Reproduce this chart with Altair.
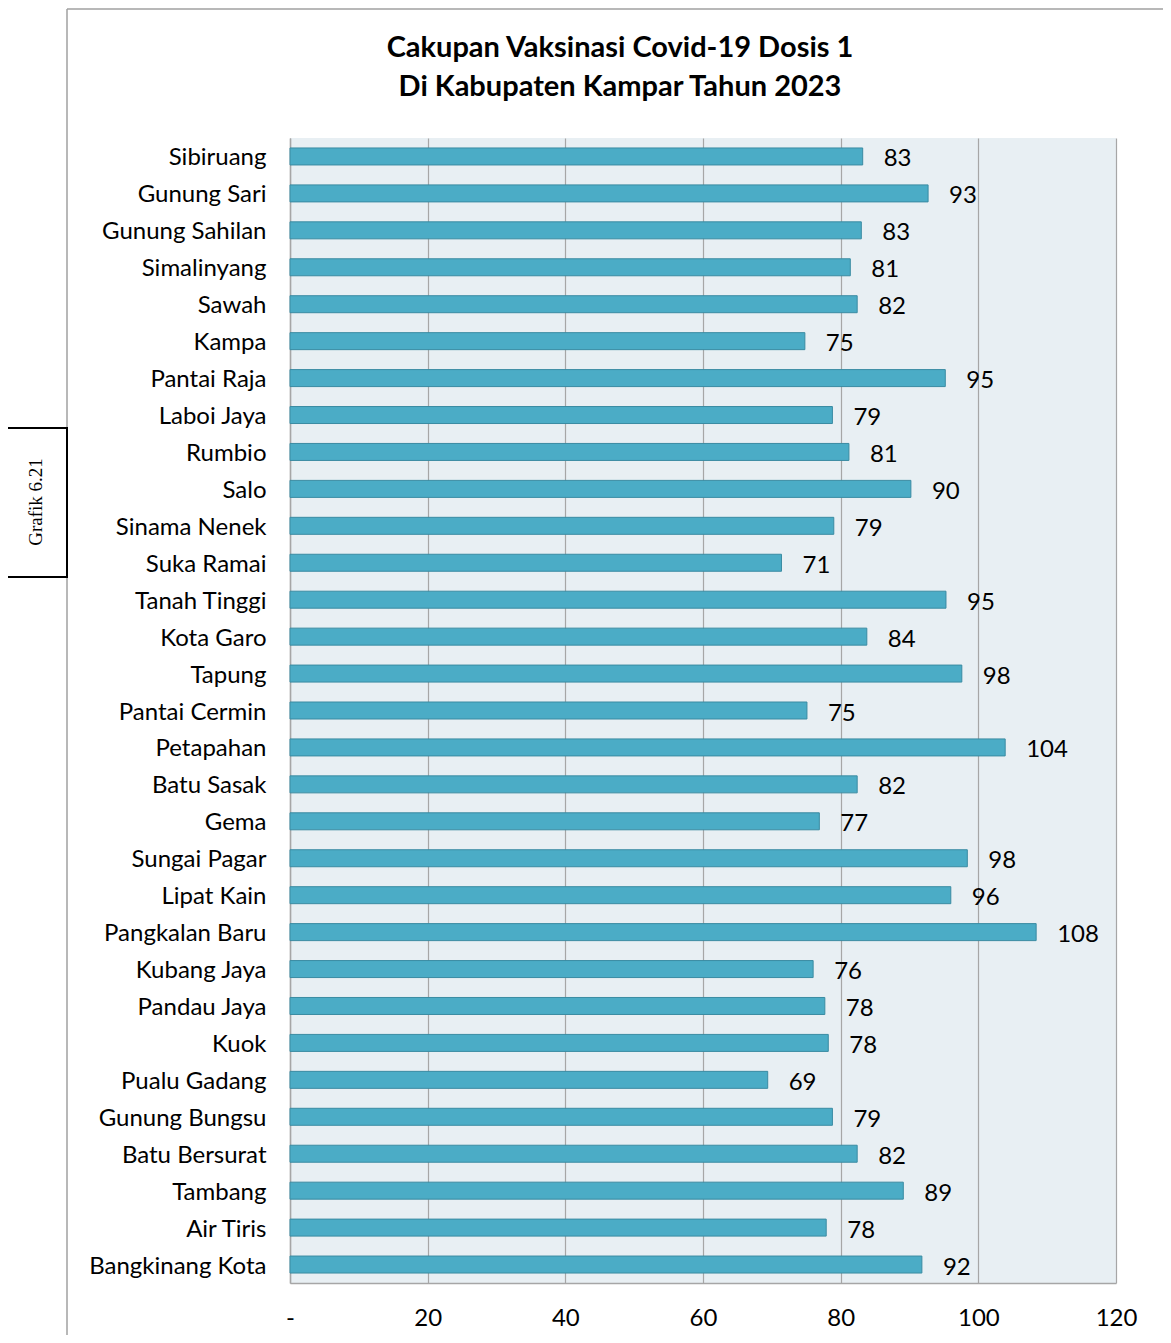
import altair as alt
import pandas as pd

categories = ["Sibiruang", "Gunung Sari", "Gunung Sahilan", "Simalinyang", "Sawah", "Kampa",
              "Pantai Raja", "Laboi Jaya", "Rumbio", "Salo", "Sinama Nenek", "Suka Ramai",
              "Tanah Tinggi", "Kota Garo", "Tapung", "Pantai Cermin", "Petapahan", "Batu Sasak",
              "Gema", "Sungai Pagar", "Lipat Kain", "Pangkalan Baru", "Kubang Jaya", "Pandau Jaya",
              "Kuok", "Pualu Gadang", "Gunung Bungsu", "Batu Bersurat", "Tambang", "Air Tiris",
              "Bangkinang Kota"]
values = [83.2, 92.7, 83.0, 81.4, 82.4, 74.8, 95.2, 78.8, 81.2, 90.2, 79.0, 71.4,
          95.3, 83.8, 97.6, 75.1, 103.9, 82.4, 76.9, 98.4, 96.0, 108.4, 76.0, 77.7,
          78.2, 69.4, 78.8, 82.4, 89.1, 77.9, 91.8]
x_ticks = [0, 20, 40, 60, 80, 100, 120]
title_lines = ["Cakupan Vaksinasi Covid-19 Dosis 1", "Di Kabupaten Kampar Tahun 2023"]
side_label = "Grafik 6.21"

df = pd.DataFrame({"kec": categories, "val": values})
df["lbl"] = df["val"].round(0).astype(int).astype(str)

FONT = "Lato"
FS = 24
W, H = 826, 1145

base = alt.Chart(df)
xenc = alt.X("val:Q", scale=alt.Scale(domain=[0, 120], nice=False),
             axis=alt.Axis(values=x_ticks, title=None, labelExpr="datum.value == 0 ? '-' : datum.label",
                           labelFontSize=FS, labelFont=FONT, labelColor="#000000", labelPadding=23,
                           labelFlush=False, labelOverlap=False,
                           ticks=False, grid=True, gridColor="#A6A6A6", gridWidth=1.2,
                           domainColor="#A6A6A6", domainWidth=1.5))
yenc = alt.Y("kec:N", sort=categories,
             axis=alt.Axis(title=None, labelFontSize=FS, labelFont=FONT, labelColor="#000000",
                           labelPadding=24, labelOffset=2, ticks=False,
                           domainColor="#A6A6A6", domainWidth=1.5))

bars = base.mark_bar(size=17, color="#4BACC6", stroke="#3A8BA2", strokeWidth=1).encode(x=xenc, y=yenc)
labels = base.mark_text(align="left", baseline="middle", dx=21, dy=3, fontSize=FS, font=FONT,
                        color="#000000").encode(x="val:Q", y=alt.Y("kec:N", sort=categories), text="lbl:N")

one = alt.Chart(pd.DataFrame({"a": [0]}))
frame_v = one.mark_rule(color="#A0A0A0", strokeWidth=1.5).encode(
    x=alt.value(-223), y=alt.value(-129), y2=alt.value(1215))
frame_h = one.mark_rule(color="#A0A0A0", strokeWidth=1.5).encode(
    x=alt.value(-223), x2=alt.value(880), y=alt.value(-129))
box = one.mark_rect(fill="white", stroke="#000000", strokeWidth=2).encode(
    x=alt.value(-285), x2=alt.value(-223), y=alt.value(290), y2=alt.value(439))
side = one.mark_text(angle=270, fontSize=19, font="Liberation Serif", color="#000000",
                     align="center", baseline="middle").encode(
    x=alt.value(-254), y=alt.value(364), text=alt.value(side_label))
t1 = one.mark_text(fontSize=29, font=FONT, fontWeight="bold", color="#000000",
                   align="center", baseline="middle").encode(
    x=alt.value(330), y=alt.value(-90), text=alt.value(title_lines[0]))
t2 = one.mark_text(fontSize=29, font=FONT, fontWeight="bold", color="#000000",
                   align="center", baseline="middle").encode(
    x=alt.value(330), y=alt.value(-51), text=alt.value(title_lines[1]))

chart = alt.layer(frame_v, frame_h, box, side, t1, t2, bars, labels).properties(
    width=W, height=H,
    autosize=alt.AutoSizeParams(type="none"),
    padding={"left": 282, "top": 130, "right": 47, "bottom": 52},
).configure_view(fill="#E8EFF3", strokeWidth=0)

chart.save("out.html", embed_options={"renderer": "svg", "actions": False})
